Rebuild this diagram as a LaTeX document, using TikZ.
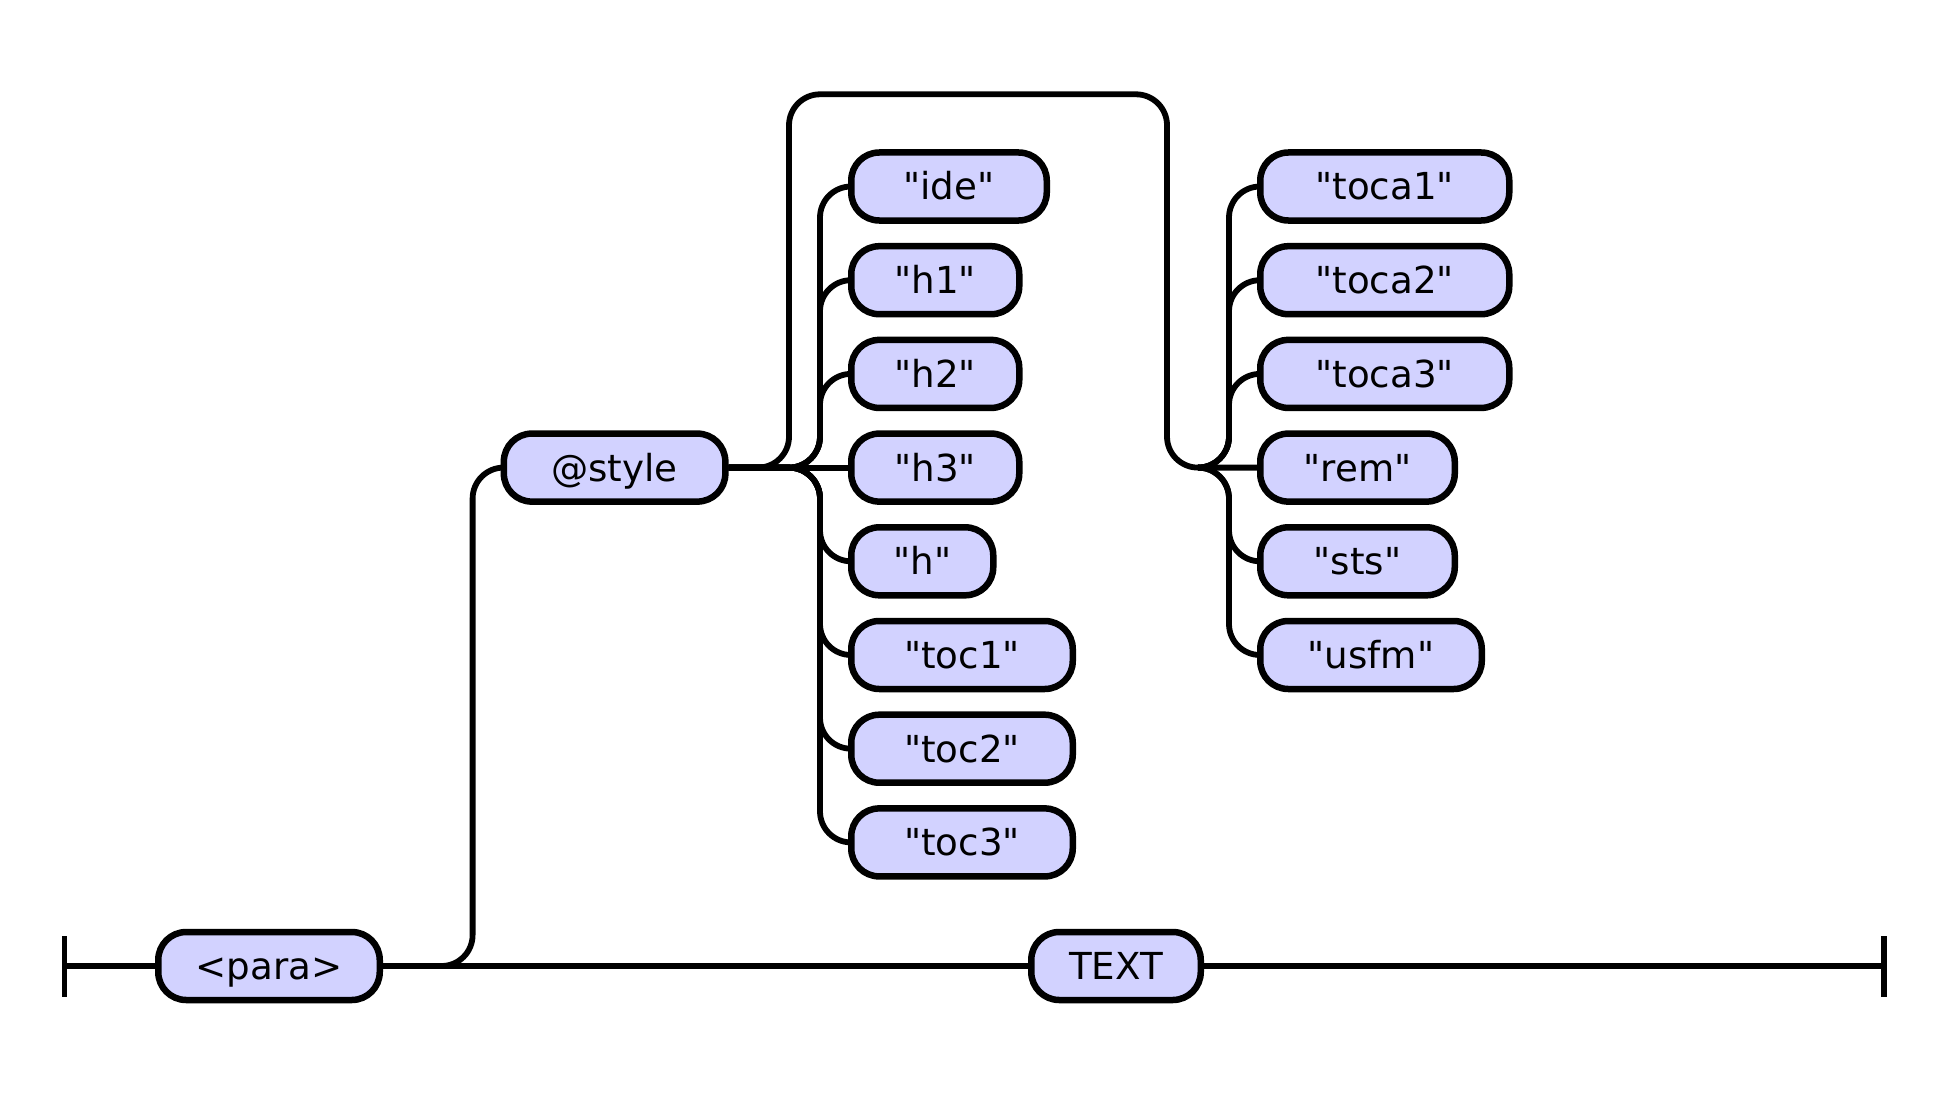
\documentclass[tikz,border=0pt]{standalone}
\usepackage{fontspec}
\newfontfamily\rrfont{DejaVu Sans}
\usetikzlibrary{backgrounds}
\definecolor{boxfill}{HTML}{D2D2FF}
\begin{document}
\begin{tikzpicture}[x=1pt,y=-1pt,
  term/.style={draw=black, line width=6.5pt, fill=boxfill, rounded corners=28pt,
    minimum height=68pt, anchor=west, inner sep=0pt,
    font=\rrfont\fontsize{37.2}{44}\selectfont, text height=27pt, text depth=0pt},
  rail/.style={line width=5.8pt, rounded corners=31pt},
  bar/.style={line width=5.8pt}]
\useasboundingbox (0,0) rectangle (1945,1094);

% main line nodes
\coordinate (start) at (64.5,966);
\coordinate (finish) at (1884,966);
\node[term, minimum width=221.5pt] (para) at (155,966) {<para>};
\node[term, minimum width=169.5pt] (text) at (1028,966) {TEXT};
\node[term, minimum width=221.5pt] (style) at (500.6,467.6) {@style};

% left group
\node[term, minimum width=195.5pt] (ide)  at (848,186.5) {"ide"};
\node[term, minimum width=168pt]   (h1)   at (848,280.2) {"h1"};
\node[term, minimum width=168pt]   (h2)   at (848,373.9) {"h2"};
\node[term, minimum width=168pt]   (h3)   at (848,467.6) {"h3"};
\node[term, minimum width=142pt]   (h)    at (848,561.3) {"h"};
\node[term, minimum width=221.5pt] (toc1) at (848,655.0) {"toc1"};
\node[term, minimum width=221.5pt] (toc2) at (848,748.7) {"toc2"};
\node[term, minimum width=221.5pt] (toc3) at (848,842.4) {"toc3"};

% right group
\node[term, minimum width=249pt]   (toca1) at (1257,186.5) {"toca1"};
\node[term, minimum width=249pt]   (toca2) at (1257,280.2) {"toca2"};
\node[term, minimum width=249pt]   (toca3) at (1257,373.9) {"toca3"};
\node[term, minimum width=194.5pt] (rem)   at (1257,467.6) {"rem"};
\node[term, minimum width=194.5pt] (sts)   at (1257,561.3) {"sts"};
\node[term, minimum width=221.5pt] (usfm)  at (1257,655.0) {"usfm"};

\coordinate (jr) at (1198,467.6);

\begin{scope}[on background layer]
  % end bars
  \draw[bar] ([yshift=-30.5pt]start) -- ([yshift=30.5pt]start);
  \draw[bar] ([yshift=-30.5pt]finish) -- ([yshift=30.5pt]finish);
  % main line
  \draw[rail] (start) -- (para.west);
  \draw[rail] (para.east) -- (text.west);
  \draw[rail] (text.east) -- (finish);
  % up to @style
  \draw[rail] (para.east) -| (472.6,467.6) -- (style.west);
  % bypass loop over the left group
  \draw[rail] (style.east) -| (789,94.3) -| (1167,467.6) -- (rem.west);
  % left group branches
  \draw[rail] (style.east) -- (h3.west);
  \foreach \n in {ide,h1,h2,h,toc1,toc2,toc3}
    \draw[rail] (style.east) -| ([xshift=-28pt]\n.west) -- (\n.west);
  % right group branches
  \foreach \n in {toca1,toca2,toca3,sts,usfm}
    \draw[rail] (jr) -| ([xshift=-28pt]\n.west) -- (\n.west);
\end{scope}
\end{tikzpicture}
\end{document}
